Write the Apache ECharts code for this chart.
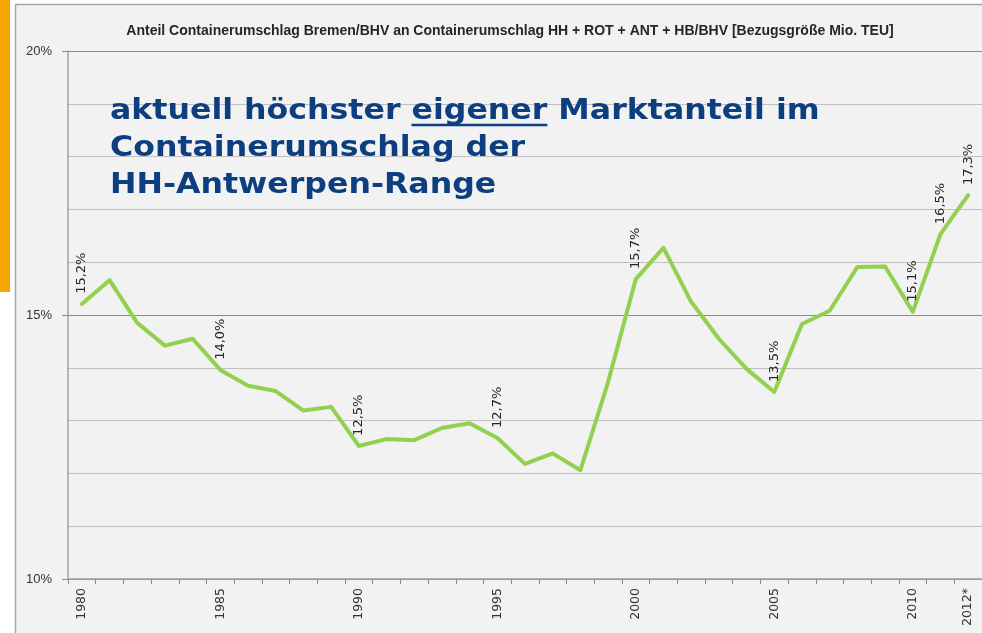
<!DOCTYPE html>
<html>
<head>
<meta charset="utf-8">
<script src="https://cdn.jsdelivr.net/npm/echarts@6/dist/echarts.min.js"></script>
<style>
html, body { margin: 0; padding: 0; background: #fff; }
#chart { width: 982px; height: 633px; }
</style>
</head>
<body>
<div id="chart"></div>
<script>
// Anteil Bremen/BHV, Prozent je Jahr
const years = ['1980', '1981', '1982', '1983', '1984', '1985', '1986', '1987', '1988', '1989',
  '1990', '1991', '1992', '1993', '1994', '1995', '1996', '1997', '1998', '1999',
  '2000', '2001', '2002', '2003', '2004', '2005', '2006', '2007', '2008', '2009',
  '2010', '2011', '2012*']
const shares = [15.21, 15.66, 14.85, 14.42, 14.55, 13.96, 13.66, 13.56, 13.19, 13.26,
  12.52, 12.65, 12.63, 12.86, 12.95, 12.67, 12.18, 12.38, 12.06, 13.73,
  15.68, 16.27, 15.25, 14.55, 13.98, 13.54, 14.83, 15.08, 15.91, 15.92,
  15.06, 16.53, 17.27]
const labelledYears = ['1980', '1985', '1990', '1995', '2000', '2005', '2010', '2011', '2012*']
const tickYears = ['1980', '1985', '1990', '1995', '2000', '2005', '2010', '2012*']

const title = 'Anteil Containerumschlag Bremen/BHV an Containerumschlag HH + ROT + ANT + HB/BHV [Bezugsgröße Mio. TEU]'
const note = ['aktuell höchster ', 'eigener', ' Marktanteil im', 'Containerumschlag der', 'HH-Antwerpen-Range']

const noteFont = 'bold 29px "DejaVu Sans"'
const ctx = document.createElement('canvas').getContext('2d')
ctx.font = noteFont
const underX = ctx.measureText(note[0]).width
const underW = ctx.measureText(note[1]).width

const chart = echarts.init(document.getElementById('chart'))

const option = {
  backgroundColor: '#f2f2f2',
  animation: false,
  title: {
    text: title,
    left: 505,
    top: 19,
    textAlign: 'center',
    textStyle: {
      fontFamily: 'Liberation Sans',
      fontSize: 14,
      fontWeight: 'bold',
      color: '#262626'
    }
  },
  grid: {
    left: 68,
    top: 51,
    width: 916,
    height: 528
  },
  xAxis: {
    type: 'category',
    data: years,
    boundaryGap: true,
    axisLine: { lineStyle: { color: '#a0a0a0', width: 1.5 } },
    axisTick: { show: true, interval: 0, length: 5, lineStyle: { color: '#8c8c8c' } },
    axisLabel: {
      rotate: 90,
      interval: (i, v) => tickYears.includes(v),
      color: '#333',
      fontFamily: 'DejaVu Sans',
      fontSize: 12.5,
      margin: 9
    },
    splitLine: { show: false }
  },
  yAxis: {
    type: 'value',
    min: 10,
    max: 20,
    interval: 5,
    axisLine: { show: true, lineStyle: { color: '#a0a0a0', width: 1.5 } },
    axisTick: { show: true, length: 6, lineStyle: { color: '#8c8c8c' } },
    axisLabel: {
      formatter: v => v + '%',
      color: '#333',
      fontFamily: 'Liberation Sans',
      fontSize: 13,
      margin: 16
    },
    splitLine: { lineStyle: { color: '#8c8c8c', width: 1.2 } },
    minorTick: { show: false, splitNumber: 5 },
    minorSplitLine: { show: true, lineStyle: { color: '#c0c0c0', width: 1.2 } }
  },
  series: [{
    type: 'line',
    data: shares.map((v, i) => labelledYears.includes(years[i]) ? { value: v, label: { show: true } } : v),
    symbol: 'circle',
    symbolSize: 0.1,
    itemStyle: { color: '#92d050' },
    lineStyle: { color: '#92d050', width: 4, cap: 'round', join: 'round' },
    label: {
      show: false,
      position: 'top',
      distance: 10,
      rotate: 90,
      align: 'left',
      verticalAlign: 'middle',
      formatter: p => p.value.toFixed(1).replace('.', ',') + '%',
      color: '#262626',
      fontFamily: 'DejaVu Sans',
      fontSize: 13
    },
    z: 3
  }],
  graphic: [
    { type: 'rect', shape: { x: 0, y: 0, width: 15, height: 633 }, style: { fill: '#fff' } },
    { type: 'rect', shape: { x: 0, y: 0, width: 982, height: 4 }, style: { fill: '#fff' } },
    { type: 'rect', shape: { x: 0, y: 0, width: 10, height: 292 }, style: { fill: '#f7a600' } },
    { type: 'line', shape: { x1: 15.5, y1: 4, x2: 15.5, y2: 633 }, style: { stroke: '#a6a6a6', lineWidth: 1.5 } },
    { type: 'line', shape: { x1: 15, y1: 4.5, x2: 982, y2: 4.5 }, style: { stroke: '#a6a6a6', lineWidth: 1.5 } },
    {
      type: 'group',
      x: 110,
      y: 93,
      scaleX: 1.09,
      z: 100,
      children: [
        {
          type: 'text',
          z: 100,
          style: {
            text: note[0] + note[1] + note[2] + '\n' + note[3] + '\n' + note[4],
            font: noteFont,
            fill: '#0d3f80',
            lineHeight: 37
          }
        },
        {
          type: 'line',
          z: 100,
          shape: { x1: underX, y1: 32, x2: underX + underW, y2: 32 },
          style: { stroke: '#0d3f80', lineWidth: 2.5 }
        }
      ]
    }
  ]
}

chart.setOption(option)
</script>
</body>
</html>
